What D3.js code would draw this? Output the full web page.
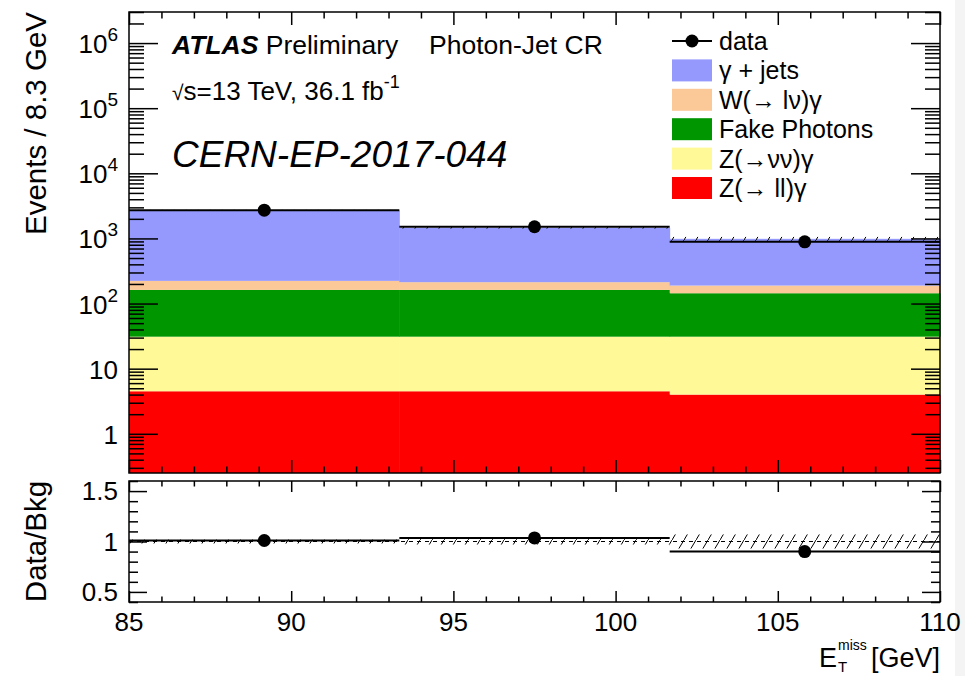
<!DOCTYPE html>
<html>
<head>
<meta charset="utf-8">
<script src="https://cdnjs.cloudflare.com/ajax/libs/d3/7.8.5/d3.min.js"></script>
<style>
  body { margin: 0; background: #fff; }
  svg text { font-family: "Liberation Sans", Arial, Helvetica, sans-serif; fill: #000; }
</style>
</head>
<body>
<script>
// ---- data ----
const binEdges = [85, 93.333, 101.667, 110]       // E_T^miss bins [GeV]
const binCenters = [89.17, 97.5, 105.83]

// stacked backgrounds (bottom -> top)
const zllGamma = [4.5, 4.5, 4.0]
const znnGamma = [26.5, 26.5, 27]
const fakePhotons = [131, 131, 113]
const wlnGamma = [61, 51, 45]
const gammaJets = [2470, 1246, 797]

const dataCounts = [2720, 1510, 887]
const bkgRelErr = [0.02, 0.03, 0.07]
const ratioVals = [1.01, 1.035, 0.90]

const sampleKeys = ["zll", "znn", "fake", "wln", "gjets"]
const sampleNames = ["Z(\u2192 ll)\u03b3", "Z(\u2192\u03bd\u03bd)\u03b3", "Fake Photons", "W(\u2192 l\u03bd)\u03b3", "\u03b3 + jets"]
const sampleColors = ["#ff0000", "#fff997", "#009600", "#fbc898", "#9599fd"]

const xTicks = [85, 90, 95, 100, 105, 110]
const yDecades = [0, 1, 2, 3, 4, 5, 6]
const ratioTicks = [0.5, 1, 1.5]

// ---- layout ----
const W = 965, H = 676
const L = 129, R = 940
const mainTop = 12, mainBot = 473
const ratTop = 481, ratBot = 602

const svg = d3.select("body").append("svg")
    .attr("width", W)
    .attr("height", H)

svg.append("rect").attr("x", 955).attr("y", 0).attr("width", 10).attr("height", H).attr("fill", "#f4f4f4")

const defs = svg.append("defs")
defs.append("pattern").attr("id", "hatch")
    .attr("patternUnits", "userSpaceOnUse")
    .attr("width", 12).attr("height", 20)
  .append("path")
    .attr("d", "M0,20 L12,0")
    .attr("stroke", "#000").attr("stroke-width", 1)

const x = d3.scaleLinear().domain([85, 110]).range([L, R])
const y = d3.scaleLog().domain([0.25, 3e6]).range([mainBot, mainTop])
const yr = d3.scaleLinear().domain([0.4, 1.6]).range([ratBot, ratTop])

// table for d3.stack
const table = binCenters.map((c, i) => ({
    i: i,
    zll: zllGamma[i], znn: znnGamma[i], fake: fakePhotons[i],
    wln: wlnGamma[i], gjets: gammaJets[i]
}))
const series = d3.stack().keys(sampleKeys)(table)
const bkgTotal = table.map((d, i) => series[series.length - 1][i][1])

// ---- main panel ----
const main = svg.append("g")

series.forEach((s, k) => {
    main.selectAll(null).data(s).enter().append("rect")
        .attr("x", d => x(binEdges[d.data.i]))
        .attr("width", d => x(binEdges[d.data.i + 1]) - x(binEdges[d.data.i]) + 0.5)
        .attr("y", d => y(d[1]))
        .attr("height", d => y(Math.max(d[0], 0.25)) - y(d[1]))
        .attr("fill", sampleColors[k])
})

// bkg uncertainty band
main.selectAll(null).data(bkgTotal).enter().append("rect")
    .attr("x", (d, i) => x(binEdges[i]))
    .attr("width", (d, i) => x(binEdges[i + 1]) - x(binEdges[i]))
    .attr("y", (d, i) => y(d * (1 + bkgRelErr[i])))
    .attr("height", (d, i) => y(d * (1 - bkgRelErr[i])) - y(d * (1 + bkgRelErr[i])))
    .attr("fill", "url(#hatch)")

// data histogram line
main.selectAll(null).data(dataCounts).enter().append("line")
    .attr("x1", (d, i) => x(binEdges[i])).attr("x2", (d, i) => x(binEdges[i + 1]))
    .attr("y1", d => y(d)).attr("y2", d => y(d))
    .attr("stroke", "#000").attr("stroke-width", 2)

// data points
main.selectAll(null).data(dataCounts).enter().append("line")
    .attr("x1", (d, i) => x(binCenters[i])).attr("x2", (d, i) => x(binCenters[i]))
    .attr("y1", d => y(d + Math.sqrt(d))).attr("y2", d => y(d - Math.sqrt(d)))
    .attr("stroke", "#000").attr("stroke-width", 2)
main.selectAll(null).data(dataCounts).enter().append("circle")
    .attr("cx", (d, i) => x(binCenters[i])).attr("cy", d => y(d))
    .attr("r", 6.5).attr("fill", "#000")

// ---- ratio panel ----
const rat = svg.append("g")

rat.selectAll(null).data(bkgRelErr).enter().append("rect")
    .attr("x", (d, i) => x(binEdges[i]))
    .attr("width", (d, i) => x(binEdges[i + 1]) - x(binEdges[i]))
    .attr("y", d => yr(1 + d))
    .attr("height", d => yr(1 - d) - yr(1 + d))
    .attr("fill", "url(#hatch)")

rat.append("line")
    .attr("x1", L).attr("x2", R).attr("y1", yr(1)).attr("y2", yr(1))
    .attr("stroke", "#000").attr("stroke-width", 1).attr("stroke-dasharray", "4,4")

rat.selectAll(null).data(ratioVals).enter().append("line")
    .attr("x1", (d, i) => x(binEdges[i])).attr("x2", (d, i) => x(binEdges[i + 1]))
    .attr("y1", d => yr(d)).attr("y2", d => yr(d))
    .attr("stroke", "#000").attr("stroke-width", 2)

rat.selectAll(null).data(ratioVals).enter().append("circle")
    .attr("cx", (d, i) => x(binCenters[i])).attr("cy", d => yr(d))
    .attr("r", 6.5).attr("fill", "#000")

// ---- ticks ----
function tickSet(axisFn, scale, values, size, tx, ty) {
    svg.append("g").attr("transform", `translate(${tx},${ty})`)
        .call(axisFn(scale).tickValues(values).tickSize(size).tickFormat(""))
        .call(g => g.select(".domain").remove())
        .selectAll("line").attr("stroke", "#000").attr("stroke-width", 1.5)
}

const xMinor = d3.range(85, 111).filter(v => v % 5 !== 0)
const yMinor = []
for (let k = -1; k <= 6; k++) {
    for (let m = 2; m <= 9; m++) {
        const v = m * Math.pow(10, k)
        if (v >= 0.25 && v <= 3e6) yMinor.push(v)
    }
}
const yMajor = yDecades.map(k => Math.pow(10, k))
const rMinor = d3.range(0.4, 1.61, 0.1).filter(v => Math.abs(v * 2 - Math.round(v * 2)) > 0.01)

// main panel
tickSet(d3.axisBottom, x, xTicks, -13, 0, mainBot)
tickSet(d3.axisBottom, x, xMinor, -6.5, 0, mainBot)
tickSet(d3.axisTop, x, xTicks, -13, 0, mainTop)
tickSet(d3.axisTop, x, xMinor, -6.5, 0, mainTop)
tickSet(d3.axisLeft, y, yMajor, -29, L, 0)
tickSet(d3.axisLeft, y, yMinor, -15, L, 0)
tickSet(d3.axisRight, y, yMajor, -29, R, 0)
tickSet(d3.axisRight, y, yMinor, -15, R, 0)

// ratio panel
tickSet(d3.axisBottom, x, xTicks, -11, 0, ratBot)
tickSet(d3.axisBottom, x, xMinor, -5.5, 0, ratBot)
tickSet(d3.axisTop, x, xTicks, -11, 0, ratTop)
tickSet(d3.axisTop, x, xMinor, -5.5, 0, ratTop)
tickSet(d3.axisLeft, yr, ratioTicks, -18, L, 0)
tickSet(d3.axisLeft, yr, rMinor, -9, L, 0)
tickSet(d3.axisRight, yr, ratioTicks, -18, R, 0)
tickSet(d3.axisRight, yr, rMinor, -9, R, 0)

// frames
svg.append("rect").attr("x", L).attr("y", mainTop).attr("width", R - L).attr("height", mainBot - mainTop)
    .attr("fill", "none").attr("stroke", "#000").attr("stroke-width", 1.5)
svg.append("rect").attr("x", L).attr("y", ratTop).attr("width", R - L).attr("height", ratBot - ratTop)
    .attr("fill", "none").attr("stroke", "#000").attr("stroke-width", 1.5)

// ---- tick labels ----
const yLab = svg.append("g").attr("font-size", 26)
yDecades.forEach(k => {
    const t = yLab.append("text")
        .attr("x", 118).attr("y", y(Math.pow(10, k)) + 10)
        .attr("text-anchor", "end")
    if (k === 0) t.text("1")
    else if (k === 1) t.text("10")
    else {
        t.append("tspan").text("10")
        t.append("tspan").attr("font-size", 19).attr("dy", -12).text(k)
    }
})

svg.append("g").attr("font-size", 26).selectAll("text").data(ratioTicks).enter().append("text")
    .attr("x", 118).attr("y", d => yr(d) + 9)
    .attr("text-anchor", "end")
    .text(d => d)

svg.append("g").attr("font-size", 26).selectAll("text").data(xTicks).enter().append("text")
    .attr("x", d => x(d)).attr("y", 631)
    .attr("text-anchor", "middle")
    .text(d => d)

// axis titles
svg.append("text")
    .attr("transform", "translate(46,12) rotate(-90)")
    .attr("text-anchor", "end").attr("font-size", 29.5)
    .text("Events / 8.3 GeV")

svg.append("text")
    .attr("transform", `translate(46,${(ratTop + ratBot) / 2}) rotate(-90)`)
    .attr("text-anchor", "middle").attr("font-size", 29.5)
    .text("Data/Bkg")

// E_T^miss: subscript and superscript drawn as separate texts so they stack
svg.append("text").attr("x", R).attr("y", 667).attr("text-anchor", "end").attr("font-size", 27).text("[GeV]")
svg.append("text").attr("x", 819).attr("y", 667).attr("font-size", 27).text("E")
svg.append("text").attr("x", 838).attr("y", 672).attr("font-size", 15).text("T")
svg.append("text").attr("x", 838).attr("y", 650).attr("font-size", 14).text("miss")

// ---- labels ----
const l1 = svg.append("text").attr("x", 172).attr("y", 54).attr("font-size", 26.5)
l1.append("tspan").attr("font-weight", "bold").attr("font-style", "italic").text("ATLAS")
l1.append("tspan").text(" Preliminary")
svg.append("text").attr("x", 429).attr("y", 54).attr("font-size", 26.5).text("Photon-Jet CR")

const l2 = svg.append("text").attr("x", 172).attr("y", 100).attr("font-size", 26)
l2.append("tspan").attr("font-size", 21).text("\u221A")
l2.append("tspan").text("s=13 TeV, 36.1 fb")
l2.append("tspan").attr("font-size", 18).attr("dy", -12).text("-1")

svg.append("text").attr("x", 172).attr("y", 167)
    .attr("font-size", 37).attr("font-style", "italic")
    .text("CERN-EP-2017-044")

// ---- legend ----
const leg = svg.append("g").attr("font-size", 25)
const legX = 672, legY0 = 41, legStep = 29.4

leg.append("line").attr("x1", legX).attr("x2", legX + 40).attr("y1", legY0).attr("y2", legY0)
    .attr("stroke", "#000").attr("stroke-width", 2)
leg.append("circle").attr("cx", legX + 20).attr("cy", legY0).attr("r", 6.5).attr("fill", "#000")
leg.append("text").attr("x", legX + 47).attr("y", legY0 + 9).text("data")

const legOrder = [4, 3, 2, 1, 0]
legOrder.forEach((k, j) => {
    const cy = legY0 + legStep * (j + 1)
    leg.append("rect").attr("x", legX).attr("y", cy - 11).attr("width", 40).attr("height", 22)
        .attr("fill", sampleColors[k])
    leg.append("text").attr("x", legX + 47).attr("y", cy + 9).text(sampleNames[k])
})
</script>
</body>
</html>
